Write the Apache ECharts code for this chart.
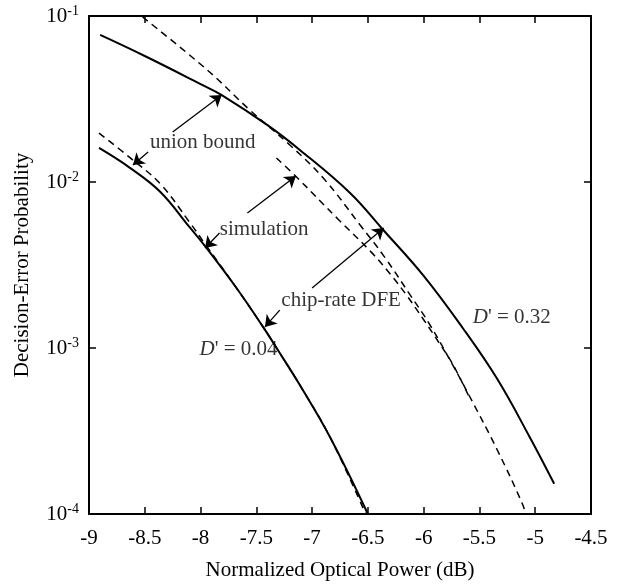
<!DOCTYPE html>
<html>
<head>
<meta charset="utf-8">
<title>Decision-Error Probability</title>
<script src="https://cdn.jsdelivr.net/npm/echarts@6/dist/echarts.min.js"></script>
<style>
	html,body{margin:0;padding:0;background:#ffffff;}
	#chart{width:618px;height:585px;}
</style>
</head>
<body>
<div id="chart"></div>
<script>
//D' = 0.32, chip-rate DFE (solid)
var powerD032=[-8.9,-8.5,-8.0,-7.81,-7.4,-7.11,-6.66,-6.37,-6.0,-5.65,-5.34,-5.05,-4.83];
var dfeD032=[0.0769,0.0574,0.0389,0.0334,0.0220,0.0156,0.00859,0.00521,0.00272,0.00132,0.00065,0.000291,0.000152];
//D' = 0.32, union bound (dashed)
var unionPowerD032=[-8.52,-7.94,-7.56,-7.2,-6.9,-6.57,-6.35,-6.12,-5.95,-5.74,-5.59,-5.34,-5.11,-5.09];
var unionD032=[0.0986,0.0473,0.0272,0.0167,0.01057,0.00551,0.00353,0.00208,0.00140,0.000791,0.000514,0.000243,0.000113,0.0001];
//D' = 0.32, simulation (dashed)
var simPowerD032=[-7.32,-7.14,-6.76,-6.47,-6.3,-6.16,-6.0,-5.86,-5.74,-5.6];
var simD032=[0.01396,0.01072,0.0059,0.00378,0.00279,0.00211,0.00148,0.00107,0.00080,0.00052];
//D' = 0.04, chip-rate DFE (solid)
var powerD004=[-8.91,-8.63,-8.36,-8.1,-7.96,-7.67,-7.44,-7.29,-7.11,-6.84,-6.5];
var dfeD004=[0.01603,0.01213,0.00871,0.00536,0.00411,0.00226,0.00134,0.000933,0.000598,0.000291,0.0001];
//D' = 0.04, union bound (dashed)
var unionPowerD004=[-8.91,-8.63,-8.36,-8.1,-7.96,-7.67,-7.44,-7.29,-7.11,-6.84,-6.52];
var unionD004=[0.0197,0.01396,0.00973,0.00574,0.00424,0.00226,0.00134,0.000933,0.000598,0.000291,0.0001];

var xTicks=[-9,-8.5,-8,-7.5,-7,-6.5,-6,-5.5,-5,-4.5];

//标注文字
var noteNames=['union bound','simulation','chip-rate DFE','D1','D2'];
var notePower=[-7.98,-7.43,-6.74,-7.66,-5.21];
var noteProb=[0.0172,0.00521,0.00192,0.000973,0.00152];

//标注箭头 [x1,y1,x2,y2]
var arrows=[
	[-8.25,0.0200,-7.81,0.0334],
	[-8.47,0.01517,-8.606,0.01265],
	[-7.58,0.0065,-7.145,0.01086],
	[-7.83,0.00493,-7.96,0.0040],
	[-7.0,0.0023,-6.357,0.00528],
	[-7.29,0.00169,-7.423,0.00134]
];

var FONT="'Liberation Serif','Times New Roman',serif";

function pairs(xs,ys){
	var list=[];
	for(var i=0;i<xs.length;i++){
		list.push([xs[i],ys[i]]);
	}
	return list;
}

function lineSeries(xs,ys,dashed){
	return {
		type:'line',
		data:pairs(xs,ys),
		showSymbol:false,
		smooth:0.4,
		silent:true,
		lineStyle:{
			color:'#000000',
			width:dashed?1.5:2,
			type:dashed?[7,5]:'solid'
		}
	};
}

var chart=echarts.init(document.getElementById('chart'),null,{renderer:'canvas'});

var xAxisBase={
	type:'value',
	min:-9,
	max:-4.5,
	interval:0.5,
	splitLine:{show:false},
	axisLine:{show:true,onZero:false,lineStyle:{color:'#000000',width:2}},
	axisTick:{show:true,inside:true,length:7,lineStyle:{color:'#000000',width:1.5}}
};
var yAxisBase={
	type:'log',
	logBase:10,
	min:0.0001,
	max:0.1,
	splitLine:{show:false},
	minorTick:{show:false},
	axisLine:{show:true,onZero:false,lineStyle:{color:'#000000',width:2}},
	axisTick:{show:true,inside:true,length:7,lineStyle:{color:'#000000',width:1.5}}
};

var noteData=[];
for(var i=0;i<noteNames.length;i++){
	noteData.push({name:noteNames[i],value:[notePower[i],noteProb[i]]});
}

var arrowData=[];
for(var j=0;j<arrows.length;j++){
	arrowData.push([{coord:[arrows[j][0],arrows[j][1]]},{coord:[arrows[j][2],arrows[j][3]]}]);
}

var option={
	backgroundColor:'#ffffff',
	animation:false,
	grid:{left:89,right:27,top:16,bottom:71,containLabel:false,outerBoundsMode:'none'},
	xAxis:[
		Object.assign({},xAxisBase,{
			position:'bottom',
			name:'Normalized Optical Power (dB)',
			nameLocation:'middle',
			nameGap:46,
			nameTextStyle:{color:'#000000',fontFamily:FONT,fontSize:21},
			axisLabel:{
				color:'#000000',fontFamily:FONT,fontSize:21,margin:14,
				formatter:function(v){
					return xTicks.indexOf(v)>=0?String(v):'';
				}
			}
		}),
		Object.assign({},xAxisBase,{position:'top',axisLabel:{show:false}})
	],
	yAxis:[
		Object.assign({},yAxisBase,{
			position:'left',
			name:'Decision-Error Probability',
			nameLocation:'middle',
			nameGap:56,
			nameTextStyle:{color:'#000000',fontFamily:FONT,fontSize:21},
			axisLabel:{
				color:'#000000',fontFamily:FONT,fontSize:21,margin:10,
				formatter:function(v){
					var e=Math.round(Math.log(v)/Math.LN10);
					return '{b|10}{s|'+e+'}';
				},
				rich:{
					b:{fontFamily:FONT,fontSize:21,color:'#000000',lineHeight:24},
					s:{fontFamily:FONT,fontSize:14,color:'#000000',padding:[0,0,10,0]}
				}
			}
		}),
		Object.assign({},yAxisBase,{position:'right',axisLabel:{show:false}})
	],
	series:[
		lineSeries(powerD032,dfeD032,false),
		lineSeries(unionPowerD032,unionD032,true),
		lineSeries(simPowerD032,simD032,true),
		lineSeries(powerD004,dfeD004,false),
		lineSeries(unionPowerD004,unionD004,true),
		{
			type:'scatter',
			data:noteData,
			symbolSize:0,
			silent:true,
			label:{
				show:true,
				position:[0,0],
				align:'center',
				verticalAlign:'middle',
				color:'#000000',
				textBorderWidth:0,
				textBorderColor:'transparent',
				fontFamily:FONT,
				fontSize:21,
				formatter:function(p){
					if(p.name=='D1') return "{i|D}{t|' = 0.04}";
					if(p.name=='D2') return "{i|D}{t|' = 0.32}";
					return '{t|'+p.name+'}';
				},
				rich:{
					i:{fontFamily:FONT,fontSize:21,fontStyle:'italic',color:'#000000',textBorderWidth:0},
					t:{fontFamily:FONT,fontSize:21,color:'#000000',textBorderWidth:0}
				}
			},
			markLine:{
				silent:true,
				symbol:['none','arrow'],
				symbolSize:11,
				label:{show:false},
				lineStyle:{color:'#000000',width:1.3,type:'solid'},
				emphasis:{disabled:true},
				data:arrowData
			}
		}
	]
};

chart.setOption(option);
</script>
</body>
</html>
